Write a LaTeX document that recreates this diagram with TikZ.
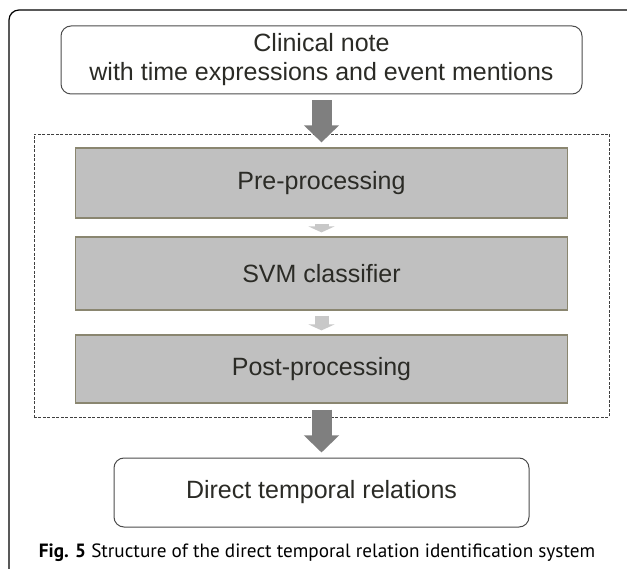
\documentclass[tikz,border=0pt]{standalone}
\usepackage{fontspec}
\setmainfont{Liberation Sans}
\newfontfamily\captionfont{PT Sans}
\usetikzlibrary{arrows.meta,positioning,fit}

\definecolor{boxgray}{HTML}{C0C0C0}
\definecolor{boxedge}{HTML}{8A8670}
\definecolor{arrowdark}{HTML}{7F7F7F}
\definecolor{arrowlight}{HTML}{C8C8C8}
\definecolor{textdark}{HTML}{2B2B26}

\begin{document}
\begin{tikzpicture}[x=1pt, y=1pt, node distance=93pt]
	\tikzstyle{inout} = [rectangle, rounded corners=10pt, minimum width=521pt, 
	minimum height=68pt, align=center, draw=black!70, line width=1pt, fill=white,
	text=textdark, font=\fontsize{25}{29}\selectfont]
	\tikzstyle{process} = [rectangle, minimum width=492pt, minimum height=70pt, 
	text centered, draw=boxedge, line width=1.2pt, fill=boxgray,
	text=textdark, font=\fontsize{25}{29}\selectfont]
	\tikzstyle{stage} = [rectangle, draw=black!75, dash pattern=on 3pt off 1.5pt,
	line width=0.7pt, inner xsep=41pt, inner ysep=13.5pt]
	\tikzstyle{bigarrow} = [draw=arrowdark, line width=20pt,
	-{Triangle[width=34pt, length=17pt]}, shorten <=6pt, shorten >=5pt]
	\tikzstyle{smallarrow} = [draw=arrowlight, line width=14pt,
	-{Triangle[width=26pt, length=6pt]}, shorten <=5pt, shorten >=4pt]
	\useasboundingbox (0,0) rectangle (627,-569);
	\draw [line width=1.2pt, rounded corners=10pt] (627,-10) -- (9,-10) -- (9,-569);
	\node (note) [inout] at (321.5,-60) {Clinical note\\with time expressions and event mentions};
	\node (pre) [process, node distance=123pt, below of=note] {Pre-processing};
	\node (svm) [process, node distance=90.5pt, below of=pre, minimum height=73pt] {SVM classifier};
	\node (post) [process, node distance=95.5pt, below of=svm, minimum height=68pt] {Post-processing};
	\node (stages) [stage, fit=(pre)(post)] {};
	\node (relations) [inout, node distance=123.5pt, below of=post, minimum width=415pt, 
	minimum height=69pt] {Direct temporal relations};
	\node (caption) at (317,-553) {\captionfont\fontsize{19.2}{22}\selectfont\textbf{Fig. 5} Structure of the direct temporal relation identification system};
	\draw [bigarrow] (note) -- (pre);
	\draw [smallarrow] (pre) -- (svm);
	\draw [smallarrow] (svm) -- (post);
	\draw [bigarrow] (post) -- (relations);
\end{tikzpicture}
\end{document}
